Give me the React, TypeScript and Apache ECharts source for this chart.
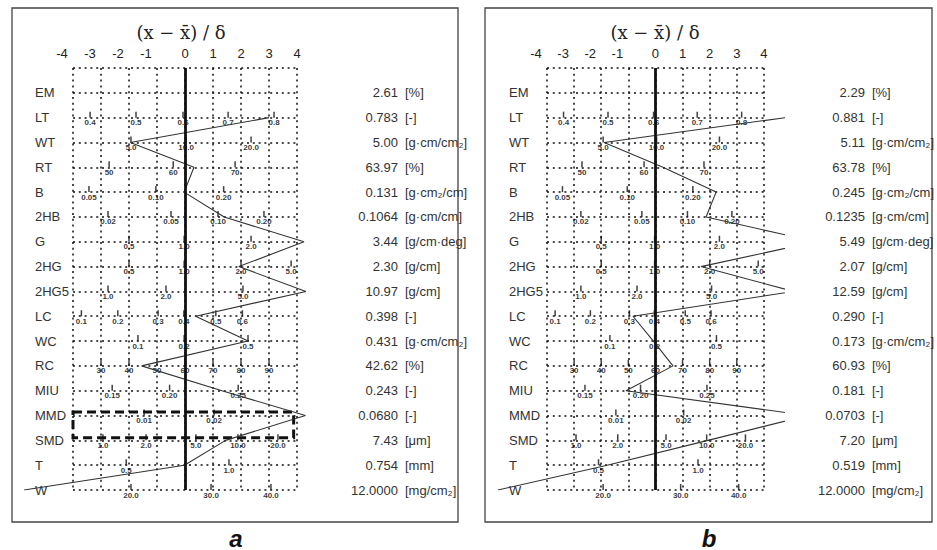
import React, { useEffect, useRef } from "react";
import * as echarts from "echarts";

// ---- data ----
const rowNames = ["EM", "LT", "WT", "RT", "B", "2HB", "G", "2HG", "2HG5", "LC", "WC", "RC", "MIU", "MMD", "SMD", "T", "W"];
const units = ["[%]", "[-]", "[g·cm/cm₂]", "[%]", "[g·cm₂/cm]", "[g·cm/cm]", "[g/cm·deg]", "[g/cm]", "[g/cm]", "[-]", "[g·cm/cm₂]", "[%]", "[-]", "[-]", "[μm]", "[mm]", "[mg/cm₂]"];
const valuesA = ["2.61", "0.783", "5.00", "63.97", "0.131", "0.1064", "3.44", "2.30", "10.97", "0.398", "0.431", "42.62", "0.243", "0.0680", "7.43", "0.754", "12.0000"];
const valuesB = ["2.29", "0.881", "5.11", "63.78", "0.245", "0.1235", "5.49", "2.07", "12.59", "0.290", "0.173", "60.93", "0.181", "0.0703", "7.20", "0.519", "12.0000"];
// standardized deviations (x - mean)/sd; EM not plotted
const zA: (number | null)[] = [null, 3.0, -1.95, 0.32, -0.03, 1.4, 4.25, 1.92, 4.32, 0.38, 2.25, -1.55, 1.32, 4.3, 1.45, -0.02, -5.75];
const zB: (number | null)[] = [null, 4.51, -1.96, 0.14, 2.04, 1.68, 5.6, 1.5, 4.8, -0.93, -0.2, 0.5, -1.18, 5.3, 1.75, -1.85, -5.75];
const topTicks = [-4, -3, -2, -1, 0, 1, 2, 3, 4];
const titleText = "(x − x̄) / δ";
// per-variable scale ticks: [row, z position, label]
const scaleTicks: [number, number, string][] = [
  [1, -3.39, "0.4"], [1, -1.75, "0.5"], [1, -0.07, "0.6"], [1, 1.54, "0.7"], [1, 3.18, "0.8"],
  [2, -1.93, "5.0"], [2, 0.04, "10.0"], [2, 2.36, "20.0"],
  [3, -2.71, "50"], [3, -0.42, "60"], [3, 1.79, "70"],
  [4, -3.43, "0.05"], [4, -1.04, "0.10"], [4, 1.38, "0.20"],
  [5, -2.75, "0.02"], [5, -0.5, "0.05"], [5, 1.18, "0.10"], [5, 2.82, "0.20"],
  [6, -2.0, "0.5"], [6, -0.03, "1.0"], [6, 2.36, "2.0"],
  [7, -2.0, "0.5"], [7, -0.03, "1.0"], [7, 2.0, "2.0"], [7, 3.79, "5.0"],
  [8, -2.75, "1.0"], [8, -0.68, "2.0"], [8, 2.07, "5.0"],
  [9, -3.7, "0.1"], [9, -2.4, "0.2"], [9, -0.96, "0.3"], [9, -0.04, "0.4"], [9, 1.1, "0.5"], [9, 2.05, "0.6"],
  [10, -1.68, "0.1"], [10, -0.03, "0.2"], [10, 2.25, "0.5"],
  [11, -3, "30"], [11, -2, "40"], [11, -1, "50"], [11, 0, "60"], [11, 1, "70"], [11, 2, "80"], [11, 3, "90"],
  [12, -2.6, "0.15"], [12, -0.55, "0.20"], [12, 1.9, "0.25"],
  [13, -1.46, "0.01"], [13, 1.04, "0.02"],
  [14, -2.93, "1.0"], [14, -1.39, "2.0"], [14, 0.39, "5.0"], [14, 1.89, "10.0"], [14, 3.32, "20.0"],
  [15, -2.1, "0.5"], [15, 1.57, "1.0"],
  [16, -1.93, "20.0"], [16, 0.93, "30.0"], [16, 3.07, "40.0"],
];
const panelTags = ["a", "b"];

const FONT = "'Liberation Sans', Arial, sans-serif";
const INK = "#222";

function buildOption() {
  const panels = [
    { left: 73, values: valuesA, z: zA, box: true, frame: [12, 8, 446, 514], tagX: 236 },
    { left: 547, values: valuesB, z: zB, box: false, frame: [485, 8, 447, 514], tagX: 709 },
  ];
  const unit = 28;
  const top = 68;
  const height = 422;
  const grid: any[] = [];
  const xAxis: any[] = [];
  const yAxis: any[] = [];
  const series: any[] = [];
  const graphic: any[] = [];
  const dotted = { show: true, lineStyle: { color: "#111", width: 1.5, type: [2, 3.8] } };

  panels.forEach((p, i) => {
    const gMain = grid.length;
    grid.push({ left: p.left, top, width: unit * 8, height });
    const gHid = grid.length;
    grid.push({ left: p.left - 2.5 * unit, top, width: unit * 10.95, height });

    const xMain = xAxis.length;
    xAxis.push({
      type: "value", gridIndex: gMain, min: -4, max: 4, interval: 1, position: "top",
      axisLine: { show: false }, axisTick: { show: false },
      axisLabel: {
        fontSize: 13, color: INK, fontFamily: FONT, margin: 8,
        formatter: (v: number) => (topTicks.includes(v) ? (v < 0 ? `{n|${v}}` : `${v}`) : ""),
        rich: { n: { fontSize: 13, color: INK, fontFamily: FONT, padding: [0, 22, 0, 0] } },
      },
      splitLine: dotted,
    });
    const xHid = xAxis.length;
    xAxis.push({ type: "value", gridIndex: gHid, min: -6.5, max: 4.45, show: false, splitLine: { show: false } });

    const yNames = yAxis.length;
    yAxis.push({
      type: "value", gridIndex: gMain, min: -1, max: 16, interval: 1, inverse: true, position: "left",
      axisLine: { show: false }, axisTick: { show: false },
      axisLabel: { align: "left", margin: 38, fontSize: 13, color: "#333", fontFamily: FONT,
        formatter: (v: number) => rowNames[Math.round(v)] ?? "" },
      splitLine: dotted,
    });
    yAxis.push({
      type: "value", gridIndex: gMain, min: -1, max: 16, interval: 1, inverse: true, position: "right",
      axisLine: { show: false }, axisTick: { show: false }, splitLine: { show: false },
      axisLabel: { align: "right", margin: 101, fontSize: 13, color: "#333", fontFamily: FONT,
        formatter: (v: number) => p.values[Math.round(v)] ?? "" },
    });
    yAxis.push({
      type: "value", gridIndex: gMain, min: -1, max: 16, interval: 1, inverse: true, position: "right",
      axisLine: { show: false }, axisTick: { show: false }, splitLine: { show: false },
      axisLabel: { align: "left", margin: 108, fontSize: 13, color: "#333", fontFamily: FONT,
        formatter: (v: number) => units[Math.round(v)] ?? "" },
    });
    const yHid = yAxis.length;
    yAxis.push({ type: "value", gridIndex: gHid, min: -1, max: 16, inverse: true, show: false, splitLine: { show: false } });

    const tickSeries: any = {
      type: "scatter", xAxisIndex: xMain, yAxisIndex: yNames, silent: true,
      color: "#111",
      symbol: "rect", symbolSize: [1.5, 6], symbolOffset: [0, -3],
      itemStyle: { color: "#111" },
      label: { show: true, position: "bottom", distance: 1, fontSize: 8, color: "#000", fontFamily: FONT,
        fontWeight: "bold", textBorderWidth: 0, formatter: (pp: any) => pp.data.name },
      data: scaleTicks.map(([r, z, l]) => ({ name: l, value: [z, r] })),
      markLine: {
        silent: true, symbol: "none", label: { show: false },
        lineStyle: { color: "#111", width: 2.8, type: "solid" },
        data: [{ xAxis: 0 }],
      },
    };
    if (p.box) {
      tickSeries.markArea = {
        silent: true,
        itemStyle: { color: "rgba(0,0,0,0)", borderColor: "#111", borderWidth: 3, borderType: [9, 5] },
        data: [[{ xAxis: -4.04, yAxis: 12.86 }, { xAxis: 3.88, yAxis: 13.9 }]],
      };
    }
    series.push(tickSeries);

    series.push({
      type: "line", xAxisIndex: xHid, yAxisIndex: yHid, silent: true, clip: true,
      color: "#333",
      symbol: "none", lineStyle: { color: "#333", width: 1.1 },
      data: p.z.map((z, r) => (z == null ? null : [z, r])).filter((d) => d !== null),
    });

    const cx = p.left + 4 * unit - 4;
    graphic.push({
      type: "text", x: cx, y: 32,
      style: { text: titleText, font: "18px 'DejaVu Serif', serif", fill: INK,
        align: "center", textAlign: "center", verticalAlign: "middle", textVerticalAlign: "middle" },
    });
    graphic.push({
      type: "rect", shape: { x: p.frame[0], y: p.frame[1], width: p.frame[2], height: p.frame[3] },
      style: { fill: "none", stroke: "#444", lineWidth: 1.3 },
    });
    graphic.push({
      type: "text", x: p.tagX, y: 538,
      style: { text: panelTags[i], font: "italic bold 24px 'Liberation Sans', Arial, sans-serif", fill: "#111",
        align: "center", textAlign: "center", verticalAlign: "middle", textVerticalAlign: "middle" },
    });
  });

  return { animation: false, backgroundColor: "#fff", grid, xAxis, yAxis, series, graphic };
}

export default function App() {
  const ref = useRef<HTMLDivElement>(null);
  useEffect(() => {
    const chart = echarts.init(ref.current!, null, { renderer: "svg" });
    chart.setOption(buildOption() as any);
    return () => chart.dispose();
  }, []);
  return (
    <div
      ref={ref}
      style={{ position: "absolute", left: 0, top: 0, width: 937, height: 550, background: "#fff" }}
    />
  );
}
